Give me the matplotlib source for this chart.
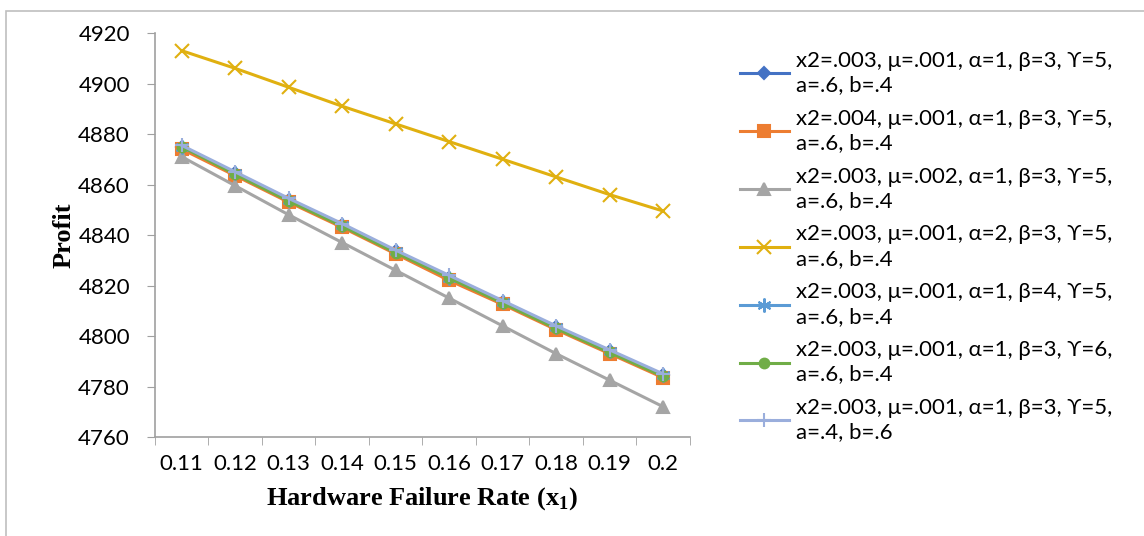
import matplotlib.pyplot as plt
from matplotlib.patches import Rectangle
from matplotlib.ticker import FixedLocator, NullFormatter

rates = ["0.11", "0.12", "0.13", "0.14", "0.15", "0.16", "0.17", "0.18", "0.19", "0.2"]

base = [4875, 4864.5, 4854, 4844, 4833.5, 4823, 4813.5, 4803.5, 4794, 4784.5]
x2_004 = [4874, 4863.5, 4853, 4843, 4832.5, 4822, 4812.5, 4802.5, 4793, 4783.5]
mu_002 = [4871, 4859.5, 4848, 4837, 4826, 4815, 4804, 4793, 4782.5, 4772]
alpha_2 = [4913, 4906, 4898.5, 4891, 4884, 4877, 4870, 4863, 4856, 4849.5]
beta_4 = [4875, 4864.5, 4854, 4844, 4833.5, 4823, 4813.5, 4803.5, 4794, 4784.5]
gamma_6 = [4875, 4864, 4853.5, 4843.5, 4833, 4823, 4813, 4803, 4793.5, 4784]
ab_swap = [4875.5, 4865, 4854.5, 4844.5, 4834, 4824, 4814, 4804, 4794.5, 4785]

labels = [
    "x2=.003, μ=.001, α=1, β=3, ϒ=5,\na=.6, b=.4",
    "x2=.004, μ=.001, α=1, β=3, ϒ=5,\na=.6, b=.4",
    "x2=.003, μ=.002, α=1, β=3, ϒ=5,\na=.6, b=.4",
    "x2=.003, μ=.001, α=2, β=3, ϒ=5,\na=.6, b=.4",
    "x2=.003, μ=.001, α=1, β=4, ϒ=5,\na=.6, b=.4",
    "x2=.003, μ=.001, α=1, β=3, ϒ=6,\na=.6, b=.4",
    "x2=.003, μ=.001, α=1, β=3, ϒ=5,\na=.4, b=.6",
]

series = [base, x2_004, mu_002, alpha_2, beta_4, gamma_6, ab_swap]
colors = ["#4472C4", "#ED7D31", "#A5A5A5", "#E0B010", "#5B9BD5", "#70AD47", "#9AAEDC"]
markers = ["D", "s", "^", "x", (6, 2, 0), "o", "+"]
msizes = [6, 8, 9, 10, 10, 7, 10]

plt.rcParams['font.family'] = ['Lato', 'DejaVu Sans']

fig = plt.figure(figsize=(11.44, 5.36), dpi=100)
fig.patches.append(Rectangle((0.0052, -0.01), 1.0, 0.9895, transform=fig.transFigure,
                             fill=False, edgecolor="#BFBFBF", linewidth=1.2))

ax = fig.add_axes([0.1355, 0.1847, 0.4675, 0.7537])
x = list(range(len(rates)))
handles = []
for ys, c, m, ms, lab in zip(series, colors, markers, msizes, labels):
    h, = ax.plot(x, ys, color=c, marker=m, markersize=ms, linewidth=2.2,
                 markeredgecolor=c, markeredgewidth=1.5, label=lab)
    handles.append(h)

ax.set_xlim(-0.5, 9.5)
ax.set_ylim(4760, 4920)
ax.set_yticks(range(4760, 4921, 20))
ax.set_xticks(x)
ax.set_xticklabels(rates)
ax.xaxis.set_minor_locator(FixedLocator([i - 0.5 for i in range(11)]))
ax.xaxis.set_minor_formatter(NullFormatter())
ax.tick_params(axis='x', which='major', length=0, pad=12, labelsize=16)
ax.tick_params(axis='x', which='minor', length=6, color="#A0A0A0")
ax.tick_params(axis='y', length=6, color="#A0A0A0", labelsize=16, pad=12)
for s in ["top", "right"]:
    ax.spines[s].set_visible(False)
for s in ["left", "bottom"]:
    ax.spines[s].set_color("#A0A0A0")
    ax.spines[s].set_linewidth(1.2)

ax.set_ylabel("Profit", family="Liberation Serif", fontweight="bold", fontsize=19, labelpad=2)
ax.set_xlabel("Hardware Failure Rate (x$_\\mathregular{1}$)", family="Liberation Serif",
              fontweight="bold", fontsize=19, labelpad=8)

leg = fig.legend(handles=handles, loc="upper left", bbox_to_anchor=(740 / 1144, 1 - 51 / 536),
                 frameon=False, fontsize=16, handlelength=2.2, handletextpad=0.3,
                 labelspacing=0.6, borderpad=0, borderaxespad=0)
for t in leg.get_texts():
    t.set_linespacing(1.28)

fig.savefig("out.png", dpi=100)
